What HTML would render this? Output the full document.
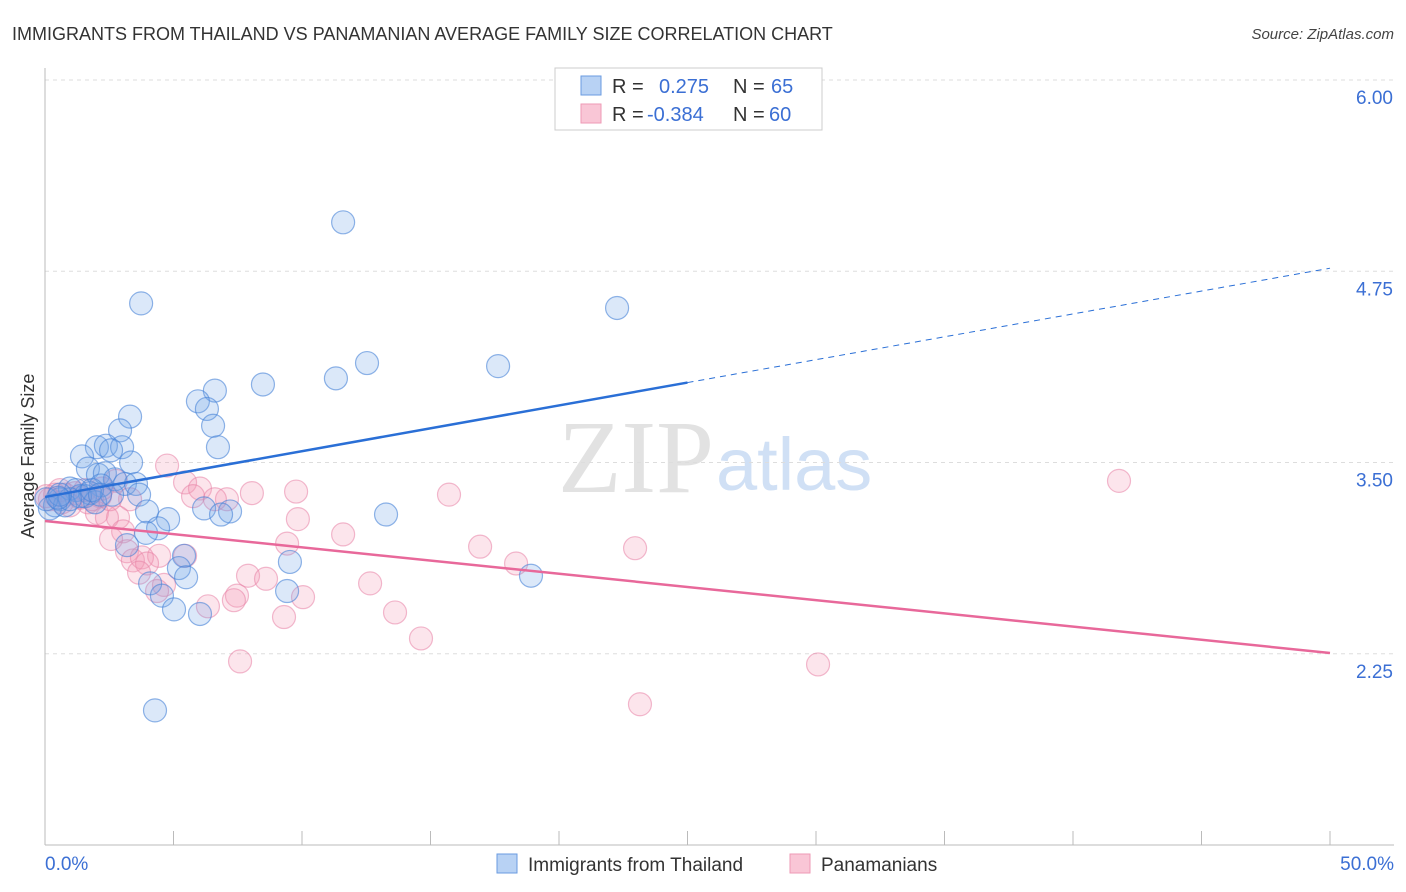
<!DOCTYPE html>
<html><head><meta charset="utf-8"><style>
body{margin:0;background:#fff;font-family:"Liberation Sans",sans-serif}
svg{display:block}
</style></head><body>
<svg width="1406" height="892" xmlns="http://www.w3.org/2000/svg">
<text x="12" y="40" font-size="18" fill="#333">IMMIGRANTS FROM THAILAND VS PANAMANIAN AVERAGE FAMILY SIZE CORRELATION CHART</text>
<text x="1394" y="39" font-size="15" fill="#444" font-style="italic" text-anchor="end">Source: ZipAtlas.com</text>
<text x="714" y="492" font-size="104" fill="#e2e2e2" text-anchor="end" font-family="Liberation Serif,serif">ZIP</text>
<text x="716" y="490" font-size="74" fill="#d0e0f5">atlas</text>
<g id="grid"></g>
<line x1="45" y1="68" x2="45" y2="845" stroke="#bbb"/>
<line x1="45" y1="845" x2="1394" y2="845" stroke="#bbb"/>
<g id="xticks"></g>
<text x="45" y="870" font-size="19" fill="#3b6fd4">0.0%</text>
<text x="1394" y="870" font-size="19" fill="#3b6fd4" text-anchor="end">50.0%</text>
<text transform="translate(34,456) rotate(-90)" font-size="18" fill="#333" text-anchor="middle">Average Family Size</text>
<g id="pts"></g>
<g id="trends"></g>
<g>
<rect x="555" y="68" width="267" height="62" fill="#fff" stroke="#ccc"/>
<rect x="581" y="76" width="20" height="19" fill="#b8d2f4" stroke="#6a9be0"/>
<rect x="581" y="104" width="20" height="19" fill="#f9c6d6" stroke="#ee9ab5"/>
<text x="612" y="93" font-size="20" fill="#333">R =</text><text x="659" y="93" font-size="20" fill="#3b6fd4">0.275</text>
<text x="733" y="93" font-size="20" fill="#333">N =</text><text x="771" y="93" font-size="20" fill="#3b6fd4">65</text>
<text x="612" y="121" font-size="20" fill="#333">R =</text><text x="647" y="121" font-size="20" fill="#3b6fd4">-0.384</text>
<text x="733" y="121" font-size="20" fill="#333">N =</text><text x="769" y="121" font-size="20" fill="#3b6fd4">60</text>
</g>
<g>
<rect x="497" y="854" width="20" height="19" fill="#b8d2f4" stroke="#6a9be0"/>
<text x="528" y="871" font-size="19" fill="#333">Immigrants from Thailand</text>
<rect x="790" y="854" width="20" height="19" fill="#f9c6d6" stroke="#ee9ab5"/>
<text x="821" y="871" font-size="19" fill="#333">Panamanians</text>
</g>
</svg>
<script>
const yTicks=[6.00,4.75,3.50,2.25];
const yTickLabels=["6.00","4.75","3.50","2.25"];
const blueX=[11.6,3.74,22.26,12.53,17.63,11.32,8.48,6.61,5.95,6.30,3.31,6.54,2.92,2.02,2.37,6.73,3.00,2.57,1.44,3.35,1.67,2.06,2.33,2.72,3.11,3.54,0.97,1.21,2.18,3.66,1.75,1.56,1.95,0.58,0.39,0.19,0.78,3.97,4.79,6.19,7.20,6.85,13.27,4.40,3.93,3.19,5.41,5.21,9.53,18.91,5.49,4.09,4.55,9.42,5.02,6.03,4.28,1.36,0.05,0.97,2.61,0.58,0.51,1.83,2.14];
const blueY=[5.07,4.54,4.51,4.15,4.13,4.05,4.01,3.97,3.90,3.85,3.80,3.74,3.71,3.60,3.61,3.60,3.60,3.58,3.54,3.50,3.46,3.42,3.43,3.39,3.36,3.36,3.33,3.32,3.35,3.29,3.30,3.28,3.24,3.26,3.22,3.20,3.22,3.18,3.13,3.20,3.18,3.16,3.16,3.07,3.04,2.96,2.89,2.81,2.85,2.76,2.75,2.71,2.63,2.66,2.54,2.51,1.88,3.28,3.26,3.26,3.29,3.29,3.27,3.32,3.29];
const pinkX=[4.75,41.79,5.45,9.77,6.03,8.05,15.72,5.76,7.08,6.61,2.76,3.31,2.14,1.67,2.02,2.84,2.41,9.84,11.60,3.04,2.57,9.42,5.45,4.44,16.93,22.96,3.19,3.42,3.77,3.97,18.33,3.66,7.90,8.60,12.65,4.63,4.36,7.47,10.04,6.34,7.35,13.62,9.30,14.63,7.59,30.08,23.15,0.39,0.78,1.17,0.19,0.58,1.36,1.83,0.97,0.05,1.56,2.53,0.66,2.22];
const pinkY=[3.48,3.38,3.37,3.31,3.33,3.30,3.29,3.28,3.26,3.26,3.38,3.26,3.28,3.24,3.17,3.14,3.14,3.13,3.03,3.05,3.00,2.97,2.89,2.89,2.95,2.94,2.92,2.86,2.88,2.84,2.84,2.78,2.76,2.74,2.71,2.70,2.66,2.63,2.62,2.56,2.60,2.52,2.49,2.35,2.20,2.18,1.92,3.29,3.29,3.30,3.26,3.32,3.27,3.26,3.22,3.28,3.32,3.26,3.24,3.33];
const blueTrend=[3.275,4.77];
const blueSolidEnd=25.0;
const pinkTrend=[3.118,2.255];
const NS="http://www.w3.org/2000/svg";
const sx=v=>45+v/50*1285;
const sy=v=>845-(v-1)*153;
function mk(tag,attrs,parent){const e=document.createElementNS(NS,tag);for(const k in attrs)e.setAttribute(k,attrs[k]);parent.appendChild(e);return e;}
const grid=document.getElementById('grid');
yTicks.forEach((t,i)=>{
 const l=mk('line',{x1:45,x2:1394,y1:sy(t),y2:sy(t),stroke:'#ddd','stroke-dasharray':'4,4'},grid);
 
 
 const tx=mk('text',{x:1393,y:sy(t)+24,'font-size':19,fill:'#3b6fd4','text-anchor':'end'},grid);
 tx.textContent=yTickLabels[i];
 
 
});
const xt=document.getElementById('xticks');
for(let p=5;p<=50;p+=5){
 const l=mk('line',{x1:sx(p),x2:sx(p),y1:831,y2:845,stroke:'#bbb'},xt);
 
 
}
const pts=document.getElementById('pts');
pinkX.forEach((x,i)=>{
 const c=mk('circle',{cx:sx(x),cy:sy(pinkY[i]),r:11.5,fill:'rgba(244,150,180,0.25)',stroke:'rgba(232,130,165,0.55)','stroke-width':1.2},pts);
 
 
});
blueX.forEach((x,i)=>{
 const c=mk('circle',{cx:sx(x),cy:sy(blueY[i]),r:11.5,fill:'rgba(110,165,230,0.25)',stroke:'rgba(70,130,215,0.6)','stroke-width':1.2},pts);
 
 
});
const tr=document.getElementById('trends');
const by=x=>blueTrend[0]+(blueTrend[1]-blueTrend[0])*x/50;
let l1=mk('line',{x1:sx(0),y1:sy(by(0)),x2:sx(blueSolidEnd),y2:sy(by(blueSolidEnd)),stroke:'#2a6fd6','stroke-width':2.5},tr);


let l2=mk('line',{x1:sx(blueSolidEnd),y1:sy(by(blueSolidEnd)),x2:sx(50),y2:sy(by(50)),stroke:'#2a6fd6','stroke-width':1,'stroke-dasharray':'6,5'},tr);


let l3=mk('line',{x1:sx(0),y1:sy(pinkTrend[0]),x2:sx(50),y2:sy(pinkTrend[1]),stroke:'#e8689a','stroke-width':2.5},tr);


</script>
</body></html>
